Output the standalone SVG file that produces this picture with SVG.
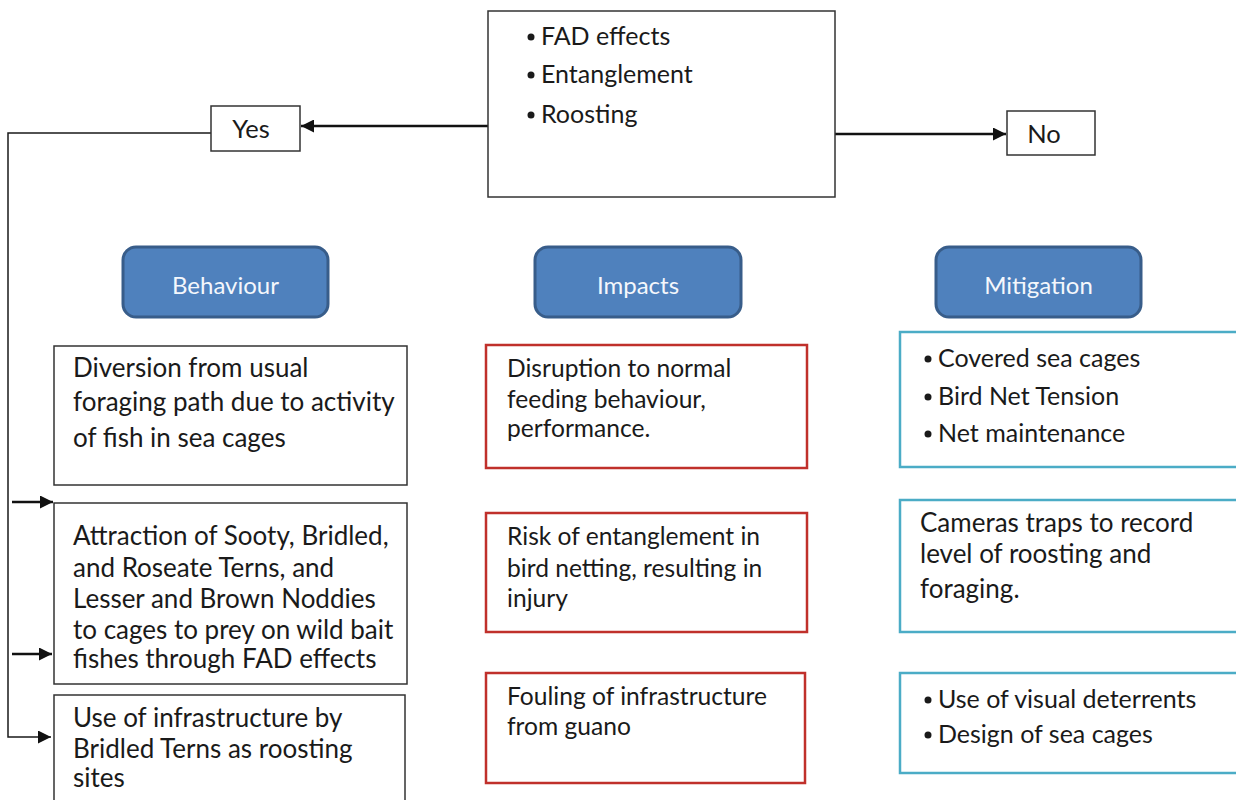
<svg xmlns="http://www.w3.org/2000/svg" width="1236" height="800" viewBox="0 0 1236 800">
  <style>
    text { font-family: Lato, "Open Sans", "Liberation Sans", sans-serif; fill: #1a1a1a; }
    .beh { font-size: 26px; }
    .imp { font-size: 24.6px; }
    .mit { font-size: 26px; }
    .bul { font-size: 25px; }
    .lbl { font-size: 25.5px; text-anchor: middle; }
    .plain { fill: #ffffff; stroke: #333333; stroke-width: 1.5; }
    .impact { fill: #ffffff; stroke: #c0302b; stroke-width: 2.5; }
    .mitig { fill: #ffffff; stroke: #4bacc6; stroke-width: 2.5; }
    .head { fill: #4f81bd; stroke: #385d8a; stroke-width: 3; }
    .headtxt { font-size: 24px; fill: #f4f7fc; text-anchor: middle; }
    .wire { fill: none; stroke: #1a1a1a; stroke-width: 1.5; }
    .wire-b { fill: none; stroke: #111111; stroke-width: 2.5; }
    .dot { fill: #1a1a1a; }
  </style>
  <defs>
    <marker id="tipL" viewBox="0 0 10 10" refX="10" refY="5" markerWidth="14" markerHeight="13" markerUnits="userSpaceOnUse" orient="auto">
      <path d="M0,0 L10,5 L0,10 z" fill="#111111"/>
    </marker>
  </defs>

  <rect width="1236" height="800" fill="#ffffff"/>

  <!-- connectors -->
  <g id="connectors">
    <line class="wire-b" x1="488" y1="126" x2="301" y2="126" marker-end="url(#tipL)"/>
    <line class="wire-b" x1="835" y1="134" x2="1006" y2="134" marker-end="url(#tipL)"/>
    <polyline class="wire" points="211,133 8,133 8,737 51,737" marker-end="url(#tipL)"/>
    <line class="wire-b" x1="12" y1="502" x2="53" y2="502" marker-end="url(#tipL)"/>
    <line class="wire-b" x1="12" y1="654" x2="52" y2="654" marker-end="url(#tipL)"/>
  </g>

  <!-- question box -->
  <g id="threats">
    <rect class="plain" x="488" y="11" width="347" height="186"/>
    <circle class="dot" cx="531" cy="37" r="3.5"/>
    <circle class="dot" cx="531" cy="75" r="3.5"/>
    <circle class="dot" cx="531" cy="115" r="3.5"/>
    <text class="bul" x="541" y="45">FAD effects</text>
    <text class="bul" x="541" y="83">Entanglement</text>
    <text class="bul" x="541" y="123">Roosting</text>
  </g>

  <g id="yes">
    <rect class="plain" x="211" y="106" width="89" height="45"/>
    <text class="lbl" x="251" y="138">Yes</text>
  </g>

  <g id="no">
    <rect class="plain" x="1007" y="111" width="88" height="44"/>
    <text class="lbl" x="1044" y="143">No</text>
  </g>

  <!-- column headers -->
  <g id="hdr-behaviour">
    <rect class="head" x="123" y="247" width="205" height="70" rx="13"/>
    <text class="headtxt" x="225.5" y="294">Behaviour</text>
  </g>
  <g id="hdr-impacts">
    <rect class="head" x="535" y="247" width="206" height="70" rx="13"/>
    <text class="headtxt" x="638" y="294">Impacts</text>
  </g>
  <g id="hdr-mitigation">
    <rect class="head" x="936" y="247" width="205" height="70" rx="13"/>
    <text class="headtxt" x="1038.5" y="294">Mitigation</text>
  </g>

  <!-- behaviour column -->
  <g id="beh-1">
    <rect class="plain" x="54" y="346" width="353" height="139"/>
    <text class="beh" x="73" y="377">Diversion from usual</text>
    <text class="beh" x="73" y="411">foraging path due to activity</text>
    <text class="beh" x="73" y="447">of fish in sea cages</text>
  </g>
  <g id="beh-2">
    <rect class="plain" x="54" y="503" width="353" height="181"/>
    <text class="beh" x="73" y="545">Attraction of Sooty, Bridled,</text>
    <text class="beh" x="73" y="577">and Roseate Terns, and</text>
    <text class="beh" x="73" y="608">Lesser and Brown Noddies</text>
    <text class="beh" x="73" y="639">to cages to prey on wild bait</text>
    <text class="beh" x="73" y="668">fishes through FAD effects</text>
  </g>
  <g id="beh-3">
    <rect class="plain" x="54" y="695" width="351" height="120"/>
    <text class="beh" x="73" y="727">Use of infrastructure by</text>
    <text class="beh" x="73" y="758">Bridled Terns as roosting</text>
    <text class="beh" x="73" y="787">sites</text>
  </g>

  <!-- impacts column -->
  <g id="imp-1">
    <rect class="impact" x="486" y="345" width="321" height="123"/>
    <text class="imp" x="507" y="377">Disruption to normal</text>
    <text class="imp" x="507" y="408">feeding behaviour,</text>
    <text class="imp" x="507" y="437">performance.</text>
  </g>
  <g id="imp-2">
    <rect class="impact" x="486" y="513" width="321" height="119"/>
    <text class="imp" x="507" y="545">Risk of entanglement in</text>
    <text class="imp" x="507" y="577">bird netting, resulting in</text>
    <text class="imp" x="507" y="607">injury</text>
  </g>
  <g id="imp-3">
    <rect class="impact" x="486" y="673" width="319" height="110"/>
    <text class="imp" x="507" y="705">Fouling of infrastructure</text>
    <text class="imp" x="507" y="735">from guano</text>
  </g>

  <!-- mitigation column -->
  <g id="mit-1">
    <rect class="mitig" x="900" y="332" width="345" height="135"/>
    <circle class="dot" cx="928" cy="359" r="3.5"/>
    <circle class="dot" cx="928" cy="397" r="3.5"/>
    <circle class="dot" cx="928" cy="434" r="3.5"/>
    <text class="bul" x="938" y="367">Covered sea cages</text>
    <text class="bul" x="938" y="405">Bird Net Tension</text>
    <text class="bul" x="938" y="442">Net maintenance</text>
  </g>
  <g id="mit-2">
    <rect class="mitig" x="900" y="500" width="345" height="132"/>
    <text class="mit" x="920" y="532">Cameras traps to record</text>
    <text class="mit" x="920" y="563">level of roosting and</text>
    <text class="mit" x="920" y="598">foraging.</text>
  </g>
  <g id="mit-3">
    <rect class="mitig" x="900" y="673" width="345" height="100"/>
    <circle class="dot" cx="928" cy="700" r="3.5"/>
    <circle class="dot" cx="928" cy="735" r="3.5"/>
    <text class="bul" x="938" y="708">Use of visual deterrents</text>
    <text class="bul" x="938" y="743">Design of sea cages</text>
  </g>
</svg>
